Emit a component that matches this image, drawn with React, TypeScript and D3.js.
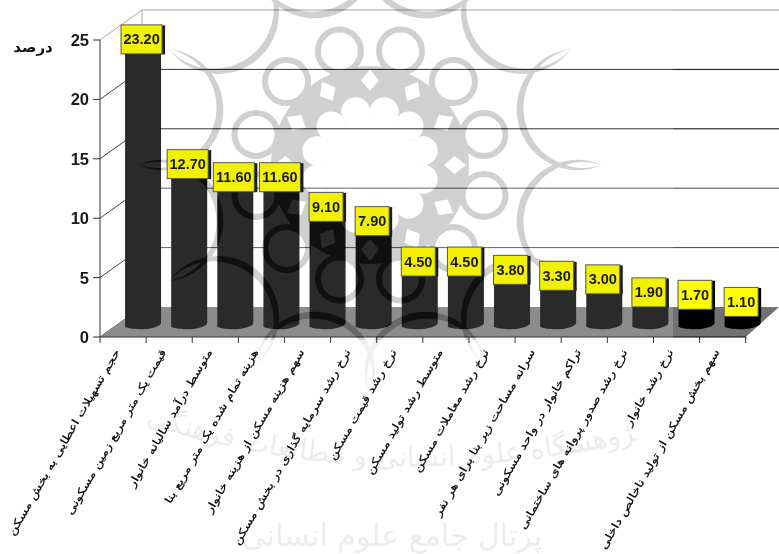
import React from "react";
import * as d3 from "d3";

const categories = [
  "حجم تسهیلات اعطایی به بخش مسکن",
  "قیمت یک متر مربع زمین مسکونی",
  "متوسط درآمد سالیانه خانوار",
  "هزینه تمام شده یک متر مربع بنا",
  "سهم هزینه مسکن از هزینه خانوار",
  "نرخ رشد سرمایه گذاری در بخش مسکن",
  "نرخ رشد قیمت مسکن",
  "متوسط رشد تولید مسکن",
  "نرخ رشد معاملات مسکن",
  "سرانه مساحت زیر بنا برای هر نفر",
  "تراکم خانوار در واحد مسکونی",
  "نرخ رشد صدور پروانه های ساختمانی",
  "نرخ رشد خانوار",
  "سهم بخش مسکن از تولید ناخالص داخلی",
];
const values = [23.2, 12.7, 11.6, 11.6, 9.1, 7.9, 4.5, 4.5, 3.8, 3.3, 3.0, 1.9, 1.7, 1.1];
const yTicks = [0, 5, 10, 15, 20, 25];
const yTitle = "درصد";
const stampTop = "پژوهشگاه علوم انسانی و مطالعات فرهنگی";
const stampBottom = "پرتال جامع علوم انسانی";

const W = 779;
const H = 554;
const depthX = 42;
const depthY = 30;
const plotLeft = 100;
const plotRight = 745.7;
const plotBottom = 337;
const plotTop = 40;
const wallRight = 779;
const latin = "'Liberation Sans', Arial, sans-serif";
const persian = "'DejaVu Sans', sans-serif";

const y = d3.scaleLinear().domain([0, 25]).range([plotBottom, plotTop]);
const x = d3.scaleBand<number>().domain(d3.range(categories.length)).range([plotLeft, plotRight]);

// Rosette seal, laid out in polar coordinates around its centre.
const sealX = 370;
const sealY = 165;
const polar = (r: number, deg: number): [number, number] => {
  const a = (deg * Math.PI) / 180;
  return [sealX + r * Math.sin(a), sealY - r * Math.cos(a)];
};
const turn = d3.range(12);
const radiusFor = (half: number, sag: number) => (half * half + sag * sag) / (2 * sag);

function crescent(k: number) {
  const tipR = 232;
  const from = polar(tipR, 30 * k);
  const to = polar(tipR, 30 * (k + 1));
  const half = tipR * Math.sin((15 * Math.PI) / 180);
  const mid = tipR * Math.cos((15 * Math.PI) / 180);
  const r1 = radiusFor(half, mid - 154);
  const r2 = radiusFor(half, mid - 161);
  return `M${from} A${r1} ${r1} 0 1 0 ${to} A${r2} ${r2} 0 1 1 ${from}Z`;
}

function barPath(cx: number, top: number) {
  const hw = 18;
  const base = 322;
  const line = d3.line<[number, number]>().curve(d3.curveBasis);
  const bottom = line([
    [cx + hw, base],
    [cx + hw, base + 3],
    [cx + hw - 8, base + 6],
    [cx + 2, base + 7.5],
    [cx - hw + 6, base + 7],
    [cx - hw, base + 5],
  ])!;
  return `M${cx - hw} ${top}H${cx + hw}V${base}${bottom.replace(/^M[^C]*/, "L" + (cx + hw) + " " + base)}Z`;
}

const Seal = () => (
  <mask id="seal" maskUnits="userSpaceOnUse" x={0} y={0} width={W} height={H}>
    <g fill="#fff" stroke="none">
      <circle cx={sealX} cy={sealY} r={99} />
      {turn.map((k) => (
        <path key={k} d={crescent(k)} />
      ))}
    </g>
    <g fill="#000">
      {turn.map((k) => {
        const [cx, cy] = polar(118, 15 + 30 * k);
        return <circle key={k} cx={cx} cy={cy} r={19} />;
      })}
      <circle cx={sealX} cy={sealY} r={49} />
      {turn.map((k) => {
        const [cx, cy] = polar(55, 15 + 30 * k);
        return <circle key={k} cx={cx} cy={cy} r={14.5} />;
      })}
      {turn.map((k) => {
        const a = polar(96, 30 * k);
        const b = polar(85, 30 * k - 6);
        const c = polar(74, 30 * k);
        const d = polar(85, 30 * k + 6);
        return <path key={k} d={`M${a}L${b}L${c}L${d}Z`} />;
      })}
    </g>
    <g fill="none" stroke="#fff" strokeWidth={6}>
      {turn.map((k) => {
        const [cx, cy] = polar(118, 15 + 30 * k);
        return <circle key={k} cx={cx} cy={cy} r={21.5} />;
      })}
    </g>
    <rect x={0} y={340} width={W} height={H - 340} fill="#000" opacity={0.65} />
  </mask>
);

export default function App() {
  const bw = x.bandwidth();
  return (
    <svg
      width={W}
      height={H}
      viewBox={`0 0 ${W} ${H}`}
      style={{ position: "absolute", left: 0, top: 0, background: "#fff" }}
    >
      <defs>
        <Seal />
        <path id="stamp-arc" d="M150 425 Q 380 500 640 440" fill="none" />
      </defs>
      <rect width={W} height={H} fill="#fff" />

      {/* Back wall, with gridlines and the side diagonals */}
      <g fill="none">
        {yTicks.map((t) => (
          <g key={t}>
            {t > 0 && (
              <line
                x1={plotLeft + depthX}
                x2={wallRight}
                y1={y(t) - depthY}
                y2={y(t) - depthY}
                stroke={t === 25 ? "#a8a8a8" : t === 5 || t === 10 ? "#666" : "#333"}
                strokeWidth={1}
              />
            )}
            <line
              x1={plotLeft}
              y1={y(t)}
              x2={plotLeft + depthX}
              y2={y(t) - depthY}
              stroke={t === 25 ? "#a8a8a8" : "#444"}
            />
          </g>
        ))}
        <line x1={plotLeft + depthX} x2={plotLeft + depthX} y1={y(25) - depthY} y2={y(0) - depthY} stroke="#a8a8a8" />
      </g>

      {/* Floor */}
      <path
        d={`M${plotLeft} ${plotBottom}L${plotLeft + depthX} ${plotBottom - depthY}H${wallRight}L${plotRight} ${plotBottom}Z`}
        fill="#8c8c8c"
      />

      {/* Stamp lettering behind the category names */}
      <g fill="#ececec" fontFamily={persian} fontWeight={400}>
        <text fontSize={28} textAnchor="middle">
          <textPath href="#stamp-arc" startOffset="50%">
            {stampTop}
          </textPath>
        </text>
        <text x={392} y={546} fontSize={30} textAnchor="middle">
          {stampBottom}
        </text>
      </g>

      {/* Cylinders */}
      {values.map((v, i) => {
        const cx = x(i)! + bw / 2 + depthX / 2 - 1;
        return <path key={i} d={barPath(cx, y(v) - depthY / 2)} fill="#2a2a2a" />;
      })}

      {/* Axes */}
      <g stroke="#333" fill="none">
        <line x1={plotLeft} x2={plotLeft} y1={plotTop} y2={plotBottom} />
        <line x1={plotLeft} x2={plotRight} y1={plotBottom} y2={plotBottom} />
        {yTicks.map((t) => (
          <line key={t} x1={plotLeft - 7} x2={plotLeft} y1={y(t)} y2={y(t)} />
        ))}
        {d3.range(categories.length + 1).map((i) => {
          const tx = plotLeft + i * x.step();
          return <line key={i} x1={tx} x2={tx} y1={plotBottom} y2={plotBottom + 6} />;
        })}
      </g>
      {yTicks.map((t) => (
        <text
          key={t}
          x={plotLeft - 11}
          y={y(t) + 6}
          textAnchor="end"
          fontFamily={latin}
          fontWeight={700}
          fontSize={16.5}
          fill="#1a1a1a"
        >
          {t}
        </text>
      ))}
      <text x={33} y={52} textAnchor="middle" fontFamily={persian} fontWeight={700} fontSize={15} fill="#111">
        {yTitle}
      </text>

      {/* Category names, slanted up toward the axis and stretched along the slant */}
      {categories.map((c, i) => {
        const tx = x(i)! + bw / 2 - 6;
        return (
          <text
            key={i}
            transform={`translate(${tx},${plotBottom + 13}) rotate(-60) scale(1.28,1)`}
            direction="rtl"
            textAnchor="start"
            fontFamily={persian}
            fontSize={10.5}
            fill="#000"
            stroke="#000"
            strokeWidth={0.2}
            dy="0.35em"
          >
            {c}
          </text>
        );
      })}

      {/* Seal printed through the chart: burn darkens marks, multiply tints the paper */}
      <rect width={W} height={H} fill="#e6e6e6" mask="url(#seal)" style={{ mixBlendMode: "color-burn" }} />
      <rect width={W} height={H} fill="#d0d0d0" mask="url(#seal)" style={{ mixBlendMode: "multiply" }} />
      <rect x={673} y={0} width={W - 673} height={340} fill="#d0d0d0" style={{ mixBlendMode: "color-burn" }} />

      {/* Value flags, on top of the seal */}
      {values.map((v, i) => {
        const cx = x(i)! + bw / 2 + depthX / 2 - 2.5;
        const cy = y(v) - depthY / 2 - 7;
        const text = v.toFixed(2);
        const w = text.length > 4 ? 41 : 34;
        return (
          <g key={i}>
            <rect x={cx - w / 2 + 3} y={cy - 14} width={w} height={29} fill={cx > 673 ? "#000" : "#1c1c1c"} />
            <rect
              x={cx - w / 2}
              y={cy - 14.5}
              width={w}
              height={29}
              fill={cx > 673 ? "#ffff00" : "#f2f200"}
              stroke="#555"
              strokeWidth={1}
            />
            <text
              x={cx}
              y={cy + 5}
              textAnchor="middle"
              fontFamily={latin}
              fontWeight={700}
              fontSize={14.5}
              fill="#1a1a1a"
            >
              {text}
            </text>
          </g>
        );
      })}
    </svg>
  );
}
